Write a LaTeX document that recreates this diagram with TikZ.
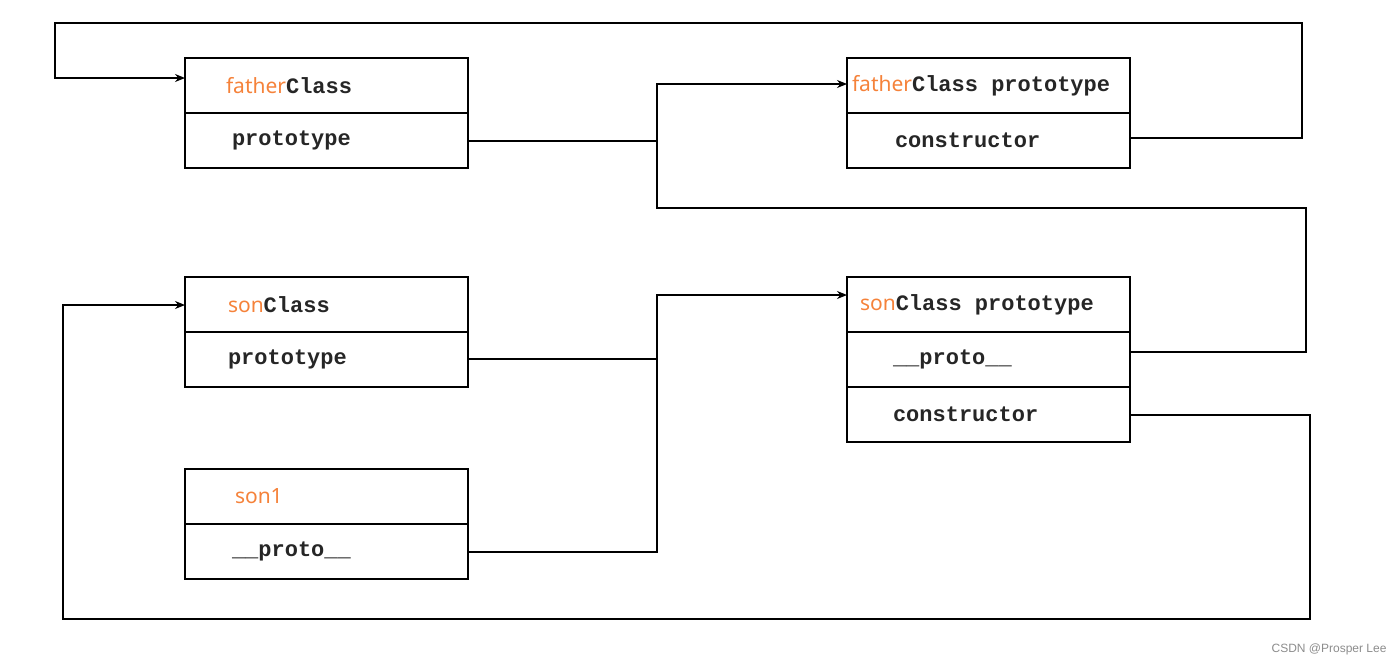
\documentclass[tikz,border=0pt]{standalone}
\usepackage{fontspec}
\setmainfont{Noto Sans}
\setsansfont{Liberation Sans}
\setmonofont{Liberation Mono}
\usetikzlibrary{arrows.meta, positioning}
\definecolor{accent}{HTML}{F5823A}
\newcommand{\hl}[1]{{\color{accent}\rmfamily\mdseries\fontsize{21}{24}\selectfont #1}}
\newcommand{\gap}{\hspace*{13.2pt}}

\begin{document}
\begin{tikzpicture}[x=1pt, y=-1pt,
    row/.style={draw, line width=1.3pt, minimum width=283pt, minimum height=55pt, text width=283pt,
                inner xsep=0pt, inner ysep=0pt, outer sep=0pt, align=left,
                font=\ttfamily\bfseries\fontsize{22}{24}\selectfont, text=black!85},
    flow/.style={-{Stealth[length=10pt, width=8pt]}, line width=1.3pt},
    link/.style={line width=1.3pt},
    node distance=0pt
]
\useasboundingbox (0,0) rectangle (1400,664);

% classes and objects
\node[row, anchor=north west] (fatherClass) at (185,58) {\hspace*{41pt}\hl{father}Class};
\node[row, below=of fatherClass] (fatherProto) {\hspace*{47pt}prototype};
\node[row, anchor=north west] (fatherObj) at (847,58) {\hspace*{5pt}\hl{father}Class\gap prototype};
\node[row, below=of fatherObj] (fatherCtor) {\hspace*{48pt}constructor};

\node[row, anchor=north west] (sonClass) at (185,277) {\hspace*{43pt}\hl{son}Class};
\node[row, below=of sonClass] (sonProto) {\hspace*{43pt}prototype};
\node[row, anchor=north west] (sonObj) at (847,277) {\hspace*{13pt}\hl{son}Class\gap prototype};
\node[row, below=of sonObj] (sonObjProto) {\hspace*{46pt}\_\_proto\_\_};
\node[row, below=of sonObjProto] (sonCtor) {\hspace*{46pt}constructor};

\node[row, anchor=north west] (son1) at (185,469) {\hspace*{50pt}\hl{son1}};
\node[row, below=of son1] (son1Proto) {\hspace*{47pt}\_\_proto\_\_};

% corners
\coordinate (topR) at (1302,23);
\coordinate (topL) at (55,23);
\coordinate (midR) at (1306,208);
\coordinate (midL) at (657,208);
\coordinate (sonJoin) at (657,295);
\coordinate (botR) at (1310,619);
\coordinate (botL) at (63,619);

% links
\draw[flow] ([yshift=2.5pt]fatherCtor.east) -| (topR) -- (topL) |- ([yshift=7.5pt]fatherClass.west);
\draw[flow] ([yshift=7.5pt]sonObjProto.east) -| (midR) -- (midL) |- ([yshift=1.5pt]fatherObj.west);
\draw[link] ([yshift=-0.5pt]fatherProto.east) -- ([yshift=-0.5pt]fatherProto.east -| midL);
\draw[flow] ([yshift=-0.5pt]son1Proto.east) -| (sonJoin) -- ([yshift=9.5pt]sonObj.west);
\draw[link] ([yshift=0.5pt]sonProto.east) -- ([yshift=0.5pt]sonProto.east -| sonJoin);
\draw[flow] ([yshift=-0.5pt]sonCtor.east) -| (botR) -- (botL) |- ([yshift=-0.5pt]sonClass.west);

\node[anchor=east, text=black!45, font=\sffamily\fontsize{12}{14}\selectfont] (mark) at (1390,649) {CSDN @Prosper Lee};
\end{tikzpicture}
\end{document}
